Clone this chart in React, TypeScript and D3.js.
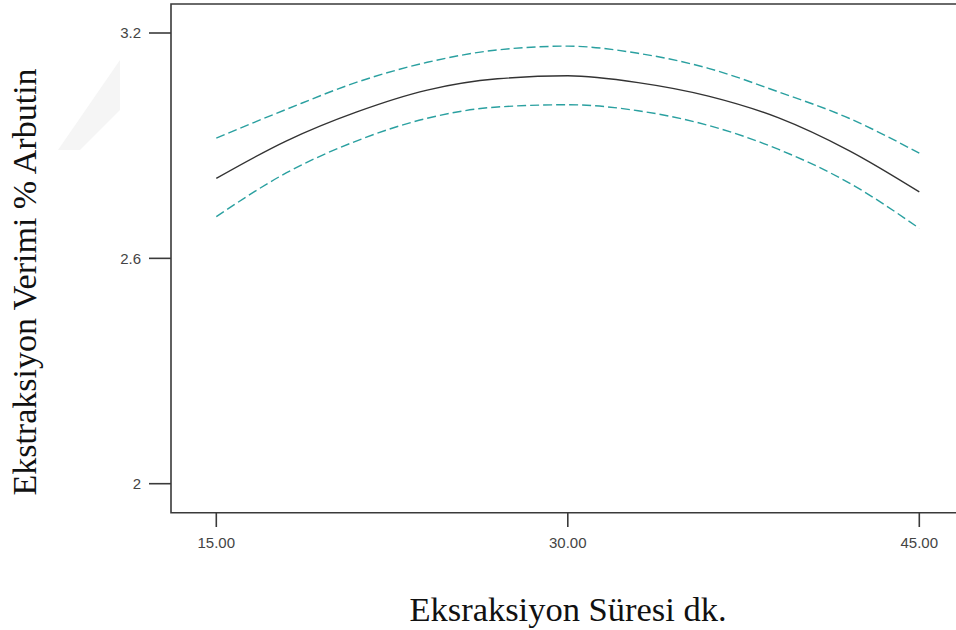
import React from "react";
import * as d3 from "d3";

const times = [15, 18, 21, 24, 27, 30, 33, 36, 39, 42, 45];
const meanValues = [2.813, 2.913, 2.99, 3.048, 3.078, 3.086, 3.068, 3.032, 2.974, 2.887, 2.777];
const upperValues = [2.92, 2.997, 3.069, 3.122, 3.155, 3.165, 3.146, 3.106, 3.043, 2.973, 2.88];
const lowerValues = [2.711, 2.828, 2.913, 2.973, 3.003, 3.009, 2.993, 2.954, 2.89, 2.801, 2.68];
const xTicks = [15, 30, 45];
const yTicks = [2, 2.6, 3.2];
const xTitle = "Eksraksiyon Süresi dk.";
const yTitle = "Ekstraksiyon Verimi % Arbutin";

const W = 956;
const H = 630;
const left = 171;
const top = 4;
const bottom = 512.7;

export default function App() {
  const x = d3.scaleLinear().domain([15, 45]).range([216.3, 919.3]);
  const y = d3.scaleLinear().domain([2, 3.2]).range([483.7, 33]);
  const line = d3
    .line<number>()
    .x((_, i) => x(times[i]))
    .y((d) => y(d))
    .curve(d3.curveMonotoneX);
  const axisColor = "#3a3a3a";
  const tickFont = "'Liberation Sans', Arial, sans-serif";
  return (
    <svg
      width={W}
      height={H}
      style={{ position: "absolute", left: 0, top: 0, background: "#fff" }}
    >
      <rect x={0} y={0} width={W} height={H} fill="#fff" />
      {/* faint watermark */}
      <polygon points="58,150 120,60 120,110 80,150" fill="#f5f5f5" />
      {/* frame */}
      <path
        d={`M${W + 2},${top} H${left} V${bottom} H${W + 2}`}
        fill="none"
        stroke={axisColor}
        strokeWidth={1.6}
      />
      {yTicks.map((t) => (
        <g key={t}>
          <line x1={149} x2={left} y1={y(t)} y2={y(t)} stroke={axisColor} strokeWidth={1.6} />
          <text
            x={141}
            y={y(t)}
            dy="0.36em"
            textAnchor="end"
            fontFamily={tickFont}
            fontSize={15}
            fill="#444"
          >
            {String(t)}
          </text>
        </g>
      ))}
      {xTicks.map((t) => (
        <g key={t}>
          <line x1={x(t)} x2={x(t)} y1={bottom} y2={527} stroke={axisColor} strokeWidth={1.6} />
          <text
            x={x(t)}
            y={548}
            textAnchor="middle"
            fontFamily={tickFont}
            fontSize={15}
            fill="#444"
          >
            {t.toFixed(2)}
          </text>
        </g>
      ))}
      <path d={line(upperValues) || ""} fill="none" stroke="#2aa0a0" strokeWidth={1.4} strokeDasharray="9,4" />
      <path d={line(lowerValues) || ""} fill="none" stroke="#2aa0a0" strokeWidth={1.4} strokeDasharray="9,4" />
      <path d={line(meanValues) || ""} fill="none" stroke="#333" strokeWidth={1.4} />
      <text
        x={568}
        y={621}
        textAnchor="middle"
        fontFamily="'Liberation Serif', 'Times New Roman', serif"
        fontSize={34.5}
        fill="#111"
      >
        {xTitle}
      </text>
      <text
        transform={`translate(36,282) rotate(-90)`}
        textAnchor="middle"
        fontFamily="'Liberation Serif', 'Times New Roman', serif"
        fontSize={34}
        fill="#111"
      >
        {yTitle}
      </text>
    </svg>
  );
}
